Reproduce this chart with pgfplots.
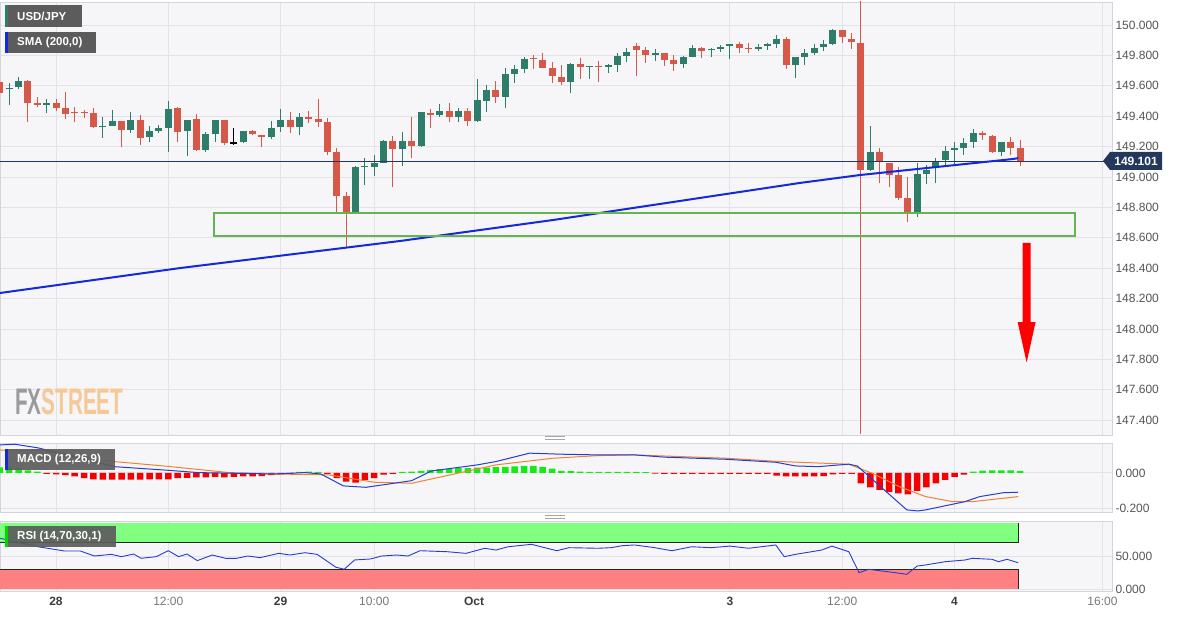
\documentclass[border=0pt]{standalone}
\usepackage{pgfplots}
\pgfplotsset{compat=1.18}
\usepackage{pgfplotstable}
\usepackage{graphicx}
\usepackage{fontspec}
\setmainfont{Liberation Sans}
\definecolor{upc}{RGB}{46,125,106}
\definecolor{dnc}{RGB}{214,88,72}
\definecolor{panelbg}{RGB}{246,246,248}
\definecolor{gridc}{RGB}{226,226,232}
\definecolor{framec}{RGB}{212,212,220}
\definecolor{navy}{RGB}{36,56,92}
\definecolor{smablue}{RGB}{20,40,220}
\definecolor{tickc}{RGB}{85,85,85}
\definecolor{timec}{RGB}{120,120,120}
\definecolor{datec}{RGB}{60,60,60}
\definecolor{boxc}{RGB}{92,92,92}
\definecolor{macdgreen}{RGB}{20,235,20}
\definecolor{macdred}{RGB}{245,0,0}
\definecolor{rsigreen}{RGB}{128,255,128}
\definecolor{rsired}{RGB}{255,128,128}
\definecolor{zonegreen}{RGB}{100,180,80}
\definecolor{sigorange}{RGB}{240,130,50}
\definecolor{macdblue}{RGB}{40,60,205}
\definecolor{fxgray}{RGB}{155,155,155}
\definecolor{fxorange}{RGB}{246,200,150}

\pgfplotstableread{
x o h l c
-5 149.579 149.620 149.474 149.588
-4 149.590 149.656 149.577 149.634
-1 149.472 149.511 149.419 149.489
5 149.327 149.397 149.255 149.331
6 149.336 149.441 149.334 149.366
8 149.309 149.426 149.288 149.373
10 149.261 149.336 149.228 149.305
11 149.303 149.340 149.288 149.320
12 149.324 149.498 149.162 149.447
14 149.305 149.377 149.140 149.375
16 149.178 149.298 149.162 149.283
17 149.283 149.377 149.228 149.375
20 149.228 149.305 149.222 149.303
23 149.261 149.368 149.248 149.322
24 149.327 149.445 149.298 149.375
26 149.327 149.423 149.276 149.397
32 148.765 149.070 148.763 149.068
33 149.064 149.127 148.947 149.068
34 149.068 149.145 149.009 149.094
35 149.094 149.243 149.090 149.237
37 149.184 149.294 149.074 149.237
39 149.206 149.430 149.197 149.428
41 149.408 149.478 149.393 149.436
43 149.397 149.452 149.360 149.434
45 149.368 149.643 149.364 149.507
46 149.502 149.605 149.426 149.572
48 149.524 149.715 149.452 149.676
49 149.678 149.737 149.616 149.709
50 149.711 149.791 149.682 149.776
55 149.625 149.748 149.551 149.743
57 149.724 149.732 149.643 149.730
59 149.724 149.741 149.686 149.735
60 149.735 149.814 149.693 149.798
61 149.798 149.847 149.759 149.824
64 149.803 149.840 149.765 149.818
67 149.743 149.796 149.715 149.791
68 149.791 149.868 149.787 149.847
70 149.834 149.847 149.791 149.842
71 149.840 149.868 149.824 149.857
72 149.864 149.873 149.776 149.873
75 149.842 149.875 149.829 149.857
76 149.864 149.884 149.836 149.877
77 149.873 149.934 149.847 149.908
79 149.737 149.787 149.649 149.787
80 149.787 149.840 149.737 149.814
81 149.814 149.875 149.803 149.849
82 149.853 149.901 149.831 149.875
83 149.875 149.972 149.868 149.967
87 149.046 149.336 149.042 149.162
92 148.761 149.090 148.735 149.018
93 149.020 149.079 148.952 149.046
94 149.061 149.127 148.958 149.105
95 149.112 149.206 149.068 149.171
96 149.178 149.232 149.079 149.189
97 149.189 149.255 149.145 149.226
98 149.232 149.314 149.189 149.291
101 149.162 149.232 149.140 149.228
}\upT

\pgfplotstableread{
x o h l c
-6 149.627 149.704 149.539 149.551
-3 149.634 149.636 149.364 149.485
-2 149.489 149.524 149.459 149.472
0 149.489 149.511 149.436 149.452
1 149.452 149.557 149.380 149.414
2 149.426 149.459 149.364 149.421
3 149.426 149.441 149.386 149.421
4 149.419 149.452 149.325 149.327
7 149.368 149.370 149.199 149.309
9 149.373 149.406 149.211 149.259
13 149.452 149.462 149.228 149.294
15 149.380 149.415 149.173 149.178
18 149.375 149.377 149.211 149.222
21 149.305 149.309 149.276 149.283
22 149.276 149.278 149.199 149.261
25 149.375 149.426 149.288 149.327
27 149.393 149.436 149.353 149.382
28 149.380 149.511 149.327 149.362
29 149.360 149.386 149.145 149.166
30 149.162 149.189 148.761 148.875
31 148.875 148.903 148.531 148.765
36 149.237 149.270 148.936 149.184
38 149.237 149.393 149.127 149.206
40 149.423 149.447 149.324 149.408
42 149.436 149.485 149.360 149.393
44 149.436 149.452 149.338 149.368
47 149.572 149.632 149.485 149.528
51 149.781 149.803 149.709 149.774
52 149.770 149.814 149.715 149.719
53 149.719 149.755 149.616 149.664
54 149.660 149.737 149.605 149.623
56 149.741 149.781 149.645 149.722
58 149.728 149.763 149.627 149.722
62 149.862 149.880 149.664 149.836
63 149.836 149.857 149.752 149.803
65 149.814 149.814 149.732 149.770
66 149.770 149.803 149.699 149.743
69 149.847 149.857 149.785 149.831
73 149.873 149.886 149.818 149.851
74 149.847 149.880 149.814 149.840
78 149.908 149.919 149.709 149.737
84 149.967 149.967 149.880 149.919
85 149.908 149.949 149.840 149.886
86 149.884 150.160 147.310 149.046
88 149.162 149.193 148.958 149.101
89 149.094 149.094 148.936 149.013
90 149.011 149.068 148.849 148.860
91 148.860 148.998 148.706 148.761
99 149.291 149.305 149.243 149.276
100 149.272 149.276 149.160 149.162
102 149.228 149.265 149.145 149.193
103 149.189 149.243 149.072 149.101
}\dnT

\pgfplotstableread{
x o h l c
19 149.222 149.324 149.209 149.220
}\dojiT

\pgfplotsset{
  panel/.style={
    scale only axis, width=1112pt,
    xmin=-5.983, xmax=112.82,
    axis background/.style={fill=panelbg},
    axis line style={draw=framec, line width=0.8pt},
    major tick length=0pt, tick style={draw=none},
    xmajorgrids, ymajorgrids,
    grid style={draw=gridc, line width=0.9pt},
    xtick={0,12,24,34,44.66,72,84,96,111.8},
    yticklabel pos=right,
    ticklabel style={font=\fontsize{12}{14}\selectfont, text=tickc},
    yticklabel style={/pgf/number format/.cd, fixed, fixed zerofill, precision=3, 1000 sep={}},
    /pgf/number format/assume math mode=true,
  },
  candle/.style 2 args={only marks, mark=text, text mark={}, forget plot,
    error bars/.cd, y dir=plus, y explicit, error mark=none,
    error bar style={draw=#1, line width=#2}},
}

\begin{document}
\begin{tikzpicture}
\path[use as bounding box, fill=white] (0pt,0pt) rectangle (1182pt,616pt);

% ---------------- main price panel ----------------
\begin{axis}[panel, at={(0pt,614pt)}, anchor=north west, height=433pt,
  ymin=147.303, ymax=150.151,
  ytick={147.4,147.6,147.8,148,148.2,148.4,148.6,148.8,149,149.2,149.4,149.6,149.8,150},
  xticklabels={}]
  % wicks
  \addplot[candle={upc}{1pt}] table[x=x, y=l, y error plus expr=\thisrow{h}-\thisrow{l}] {\upT};
  \addplot[candle={dnc}{1pt}] table[x=x, y=l, y error plus expr=\thisrow{h}-\thisrow{l}] {\dnT};
  \addplot[candle={black}{1pt}] table[x=x, y=l, y error plus expr=\thisrow{h}-\thisrow{l}] {\dojiT};
  % bodies
  \addplot[candle={upc}{7pt}] table[x=x, y=o, y error plus expr={max(\thisrow{c}-\thisrow{o},0.008)}] {\upT};
  \addplot[candle={dnc}{7pt}] table[x=x, y=c, y error plus expr={max(\thisrow{o}-\thisrow{c},0.008)}] {\dnT};
  \addplot[candle={black}{7pt}] table[x=x, y=c, y error plus expr=0.007] {\dojiT};
  % last price line
  \addplot[navy, line width=1pt] coordinates {(-6,149.101) (113,149.101)};
  % SMA 200
  \addplot[smablue, line width=2pt] coordinates {
    (-5.98,148.237) (13.25,148.401) (36.75,148.579) (53.1,148.717)
    (79.5,148.961) (85.9,149.013) (102.2,149.118) (102.8,149.124)};
  % support zone
  \draw[zonegreen, line width=1.8pt] (axis cs:16.9,148.612) rectangle (axis cs:108.9,148.763);
  % arrow
  \fill[red] (axis cs:103.27,148.566) -- (axis cs:104.13,148.566) -- (axis cs:104.13,148.046)
     -- (axis cs:104.66,148.046) -- (axis cs:103.7,147.78) -- (axis cs:102.74,148.046)
     -- (axis cs:103.27,148.046) -- cycle;
\end{axis}

% ---------------- MACD panel ----------------
\begin{axis}[panel, at={(0pt,173pt)}, anchor=north west, height=69pt,
  ymin=-0.223, ymax=0.171, ytick={-0.2,0}, xticklabels={}]
  \addplot[ybar, bar width=6.5pt, bar shift=0pt, fill=macdgreen, draw=none] coordinates {
    (-6,0.032) (-5,0.032) (-4,0.028) (-3,0.015) (-2,0.008)
    (26,0.006) (27,0.008) (28,0.006)
    (37,0.006) (38,0.008) (39,0.012) (40,0.018) (41,0.022) (42,0.025) (43,0.028) (44,0.028)
    (45,0.03) (46,0.03) (47,0.033) (48,0.035) (49,0.038) (50,0.04) (51,0.04) (52,0.035)
    (53,0.025) (54,0.012) (55,0.01) (56,0.008) (57,0.006) (58,0.006) (59,0.006) (60,0.006)
    (61,0.006) (62,0.006) (63,0.004)
    (98,0.008) (99,0.013) (100,0.014) (101,0.015) (102,0.014) (103,0.012)};
  \addplot[ybar, bar width=6.5pt, bar shift=0pt, fill=macdred, draw=none] coordinates {
    (-1,-0.006) (0,-0.008) (1,-0.012) (2,-0.02) (3,-0.03) (4,-0.036) (5,-0.038) (6,-0.038)
    (7,-0.038) (8,-0.038) (9,-0.038) (10,-0.036) (11,-0.036) (12,-0.036) (13,-0.03) (14,-0.028)
    (15,-0.025) (16,-0.025) (17,-0.022) (18,-0.025) (19,-0.022) (20,-0.02) (21,-0.02) (22,-0.018)
    (23,-0.012) (24,-0.008) (25,-0.006)
    (29,-0.006) (30,-0.03) (31,-0.05) (32,-0.055) (33,-0.04) (34,-0.03) (35,-0.01) (36,-0.006)
    (64,-0.004) (65,-0.006) (66,-0.006) (67,-0.006) (68,-0.006) (69,-0.006) (70,-0.006)
    (71,-0.006) (72,-0.006) (73,-0.006) (74,-0.006) (75,-0.006) (76,-0.006)
    (77,-0.015) (78,-0.02) (79,-0.02) (80,-0.02) (81,-0.02) (82,-0.018) (83,-0.008)
    (84,-0.006) (85,-0.006)
    (86,-0.059) (87,-0.082) (88,-0.097) (89,-0.11) (90,-0.116) (91,-0.122) (92,-0.103)
    (93,-0.082) (94,-0.059) (95,-0.04) (96,-0.023) (97,-0.01)};
  \addplot[sigorange, line width=1pt] coordinates {
    (-6,0.131) (-1.9,0.131) (6.2,0.065) (11.5,0.040) (18.5,0.002) (23.4,-0.006) (29.1,-0.011)
    (34.0,-0.053) (38.0,-0.059) (42.9,-0.002) (47.0,0.046) (53.1,0.084) (57.9,0.099)
    (61.8,0.103) (71.6,0.084) (77.4,0.065) (84.7,0.050) (87.2,-0.002) (90.1,-0.078)
    (92.9,-0.135) (95.8,-0.164) (97.9,-0.164) (102.8,-0.135)};
  \addplot[macdblue, line width=1pt] coordinates {
    (-6,0.160) (-4.4,0.164) (-1.9,0.143) (6.2,0.036) (11.5,0.017) (15.2,0.002) (23.4,-0.006)
    (26.6,0.002) (28.3,-0.006) (30.7,-0.074) (33.1,-0.082) (34.8,-0.069) (38.0,-0.044)
    (40.1,0.011) (45.0,0.046) (47.0,0.065) (50.6,0.113) (54.0,0.107) (57.9,0.103) (61.8,0.103)
    (65.1,0.090) (71.6,0.078) (76.9,0.061) (79.0,0.040) (81.4,0.036) (84.7,0.050) (85.6,0.040)
    (90.9,-0.211) (92.1,-0.217) (92.9,-0.211) (97.1,-0.164) (98.7,-0.135) (101.2,-0.113)
    (102.8,-0.110)};
\end{axis}

% ---------------- RSI panel ----------------
\begin{axis}[panel, at={(0pt,95pt)}, anchor=north west, height=70pt,
  ymin=-3, ymax=103, ytick={0,50},
  xticklabels={\textcolor{datec}{\textbf{28}},\textcolor{timec}{12:00},\textcolor{datec}{\textbf{29}},
    \textcolor{timec}{10:00},\textcolor{datec}{\textbf{Oct}},\textcolor{datec}{\textbf{3}},
    \textcolor{timec}{12:00},\textcolor{datec}{\textbf{4}},\textcolor{timec}{16:00}},
  xticklabel style={yshift=-3pt}]
  \fill[rsigreen] (axis cs:-6,70) rectangle (axis cs:102.8,100);
  \draw[black!85, line width=0.8pt] (axis cs:-6,70) -- (axis cs:102.8,70) -- (axis cs:102.8,100);
  \fill[rsired] (axis cs:-6,0) rectangle (axis cs:102.8,30);
  \draw[black!85, line width=0.8pt] (axis cs:-6,30) -- (axis cs:102.8,30) -- (axis cs:102.8,0);
  \addplot[macdblue, line width=0.9pt] coordinates {
    (-6,77) (-3.5,69) (-1.9,64) (0.9,57.6) (2.6,57.6) (4.1,50) (5.9,52.5) (7.0,49) (8.3,53)
    (9.1,46.5) (10.7,49) (12.0,58) (13.1,49) (14.0,53) (15.1,43) (16.7,51.5) (18.1,46.5)
    (19.3,46.5) (20.5,50) (21.8,47.5) (23.8,54) (25.0,51.5) (26.6,55) (27.9,52.5) (29.9,33)
    (30.8,30) (31.9,44) (33.6,45.5) (34.8,50) (36.4,51.5) (37.6,50) (38.9,58) (41.8,56.5)
    (43.8,54) (45.8,61.7) (47.0,59) (48.3,64) (50.8,67.7) (53.5,58) (54.8,62.6) (57.9,61.7)
    (59.3,62.6) (60.5,65.6) (61.8,66.7) (63.8,63) (65.8,58) (67.9,64) (70.0,62.6) (72.0,65)
    (74.0,61.7) (76.9,66.7) (77.8,49) (79.0,52.5) (81.8,59) (82.9,65) (84.7,56.5) (85.8,24.7)
    (86.8,29.8) (88.9,26.2) (90.9,22.3) (92.0,34.8) (92.9,36.4) (95.0,41.4) (97.1,43.9)
    (97.9,46.5) (100.0,45) (100.7,41.4) (101.6,45) (102.8,39.8)};
\end{axis}

% ---------------- overlays ----------------
\begin{scope}[x=1pt,y=1pt]
% last price tag
\fill[navy] (1103,455) -- (1110,464) -- (1162,464) -- (1162,446) -- (1110,446) -- cycle;
\node[text=white, font=\fontsize{12}{14}\selectfont\bfseries, inner sep=0pt] at (1136,455) {149.101};
% legend boxes
\fill[boxc] (5,611) rectangle (82,589);
\fill[upc] (5,611) rectangle (8,589);
\node[anchor=west, text=white, font=\fontsize{11.5}{13}\selectfont\bfseries, inner sep=0pt] at (17,600) {USD/JPY};
\fill[boxc] (5,584) rectangle (96,563);
\fill[smablue] (5,584) rectangle (8,563);
\node[anchor=west, text=white, font=\fontsize{11.5}{13}\selectfont\bfseries, inner sep=0pt] at (17,573.5) {SMA (200,0)};
\fill[boxc, opacity=0.92] (5,167) rectangle (115,146);
\fill[smablue] (5,167) rectangle (8,146);
\node[anchor=west, text=white, font=\fontsize{11.5}{13}\selectfont\bfseries, inner sep=0pt] at (17,156.5) {MACD (12,26,9)};
\fill[boxc, opacity=0.92] (5,90) rectangle (116,69);
\fill[green!85!black] (5,90) rectangle (8,69);
\node[anchor=west, text=white, font=\fontsize{11.5}{13}\selectfont\bfseries, inner sep=0pt] at (17,79.5) {RSI (14,70,30,1)};
% panel handles
\draw[gray!70, line width=0.8pt] (545,179.5) -- (565,179.5) (545,177) -- (565,177);
\draw[gray!70, line width=0.8pt] (545,100.5) -- (565,100.5) (545,98) -- (565,98);
% watermark
\node[anchor=south west, inner sep=0pt] at (15,201) {\scalebox{0.56}[1]{\fontsize{37}{37}\selectfont\bfseries\textcolor{fxgray}{FX}\textcolor{fxorange}{STREET}}};
\end{scope}
\end{tikzpicture}
\end{document}
